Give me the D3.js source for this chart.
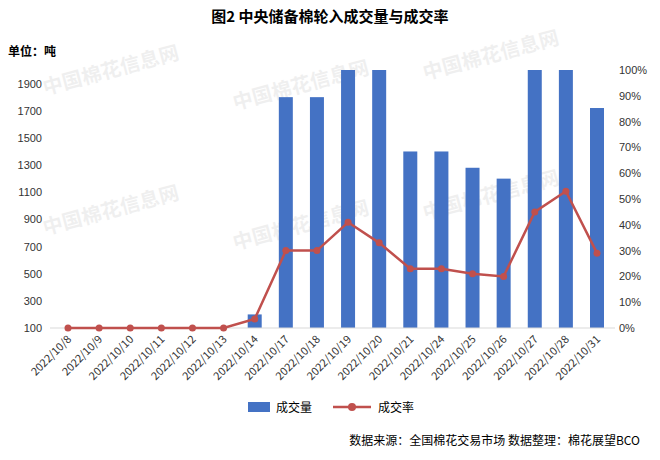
<!DOCTYPE html>
<html><head><meta charset="utf-8">
<script src="https://cdn.jsdelivr.net/npm/d3@7"></script>
<style>body{margin:0;background:#fff;font-family:"Noto Sans CJK SC","Noto Sans",sans-serif;}</style>
</head><body>
<svg id="c" width="660" height="460"></svg>
<script>
var dates = ["2022/10/8","2022/10/9","2022/10/10","2022/10/11","2022/10/12","2022/10/13","2022/10/14","2022/10/17","2022/10/18","2022/10/19","2022/10/20","2022/10/21","2022/10/24","2022/10/25","2022/10/26","2022/10/27","2022/10/28","2022/10/31"];
var volume = [0,0,0,0,0,0,200,1800,1800,2000,2000,1400,1400,1280,1200,2000,2000,1720];
var rate = [0,0,0,0,0,0,3.5,30,30,41,33,23,23,21,20,45,53,29];
var leftTicks = [100,300,500,700,900,1100,1300,1500,1700,1900];
var rightTicks = [0,10,20,30,40,50,60,70,80,90,100];

var svg = d3.select("#c");
var plotTop = 70, plotBottom = 328, plotLeft = 50, plotRight = 615;

var x = d3.scalePoint().domain(dates).range([68, 597]);
var yL = d3.scaleLinear().domain([100, 2000]).range([plotBottom, plotTop]);
var yR = d3.scaleLinear().domain([0, 100]).range([plotBottom, plotTop]);

// watermarks
[[45,95],[235,110],[425,80],[45,235],[235,250],[425,220]].forEach(function(p){
    svg.append("text").attr("x", p[0]).attr("y", p[1]).attr("font-size", 20).attr("font-weight", "bold")
        .attr("fill", "#000").attr("opacity", 0.06).attr("transform", "rotate(-15," + p[0] + "," + p[1] + ")").text("中国棉花信息网");
});

svg.append("text").attr("x", 330).attr("y", 22).attr("text-anchor", "middle")
    .attr("font-size", 15).attr("font-weight", "bold").text("图2 中央储备棉轮入成交量与成交率");
svg.append("text").attr("x", 8).attr("y", 56).attr("font-size", 12).attr("font-weight", "bold").text("单位：吨");

svg.append("g").selectAll("rect").data(dates).join("rect")
    .attr("x", function(d){ return x(d) - 7; })
    .attr("width", 14)
    .attr("y", function(d, i){ return volume[i] > 100 ? yL(volume[i]) : plotBottom; })
    .attr("height", function(d, i){ return volume[i] > 100 ? plotBottom - yL(volume[i]) : 0; })
    .attr("fill", "#4472c4");

svg.append("g").attr("transform", "translate(" + plotLeft + ",0)")
    .call(d3.axisLeft(yL).tickValues(leftTicks).tickSize(0).tickPadding(8).tickFormat(d3.format("d")))
    .call(function(g){ g.select(".domain").remove(); })
    .selectAll("text").attr("font-size", 11).attr("fill", "#333");

svg.append("g").attr("transform", "translate(" + plotRight + ",0)")
    .call(d3.axisRight(yR).tickValues(rightTicks).tickSize(0).tickPadding(4).tickFormat(function(d){ return d + "%"; }))
    .call(function(g){ g.select(".domain").remove(); })
    .selectAll("text").attr("font-size", 11).attr("fill", "#333");

svg.append("line").attr("x1", plotLeft).attr("x2", plotRight).attr("y1", plotBottom).attr("y2", plotBottom).attr("stroke", "#d9d9d9");

var line = d3.line().x(function(d, i){ return x(dates[i]); }).y(function(d){ return yR(d); });
svg.append("path").datum(rate).attr("d", line).attr("fill", "none").attr("stroke", "#c0504d").attr("stroke-width", 2.5);
svg.append("g").selectAll("circle").data(rate).join("circle")
    .attr("cx", function(d, i){ return x(dates[i]); }).attr("cy", function(d){ return yR(d); })
    .attr("r", 3.5).attr("fill", "#c0504d");

svg.append("g").selectAll("text").data(dates).join("text")
    .attr("transform", function(d){ return "translate(" + (x(d) + 4) + "," + (plotBottom + 12) + ") rotate(-45)"; })
    .attr("text-anchor", "end").attr("font-size", 11).attr("fill", "#333").text(function(d){ return d; });

// legend
svg.append("rect").attr("x", 248).attr("y", 402).attr("width", 22).attr("height", 10).attr("fill", "#4472c4");
svg.append("text").attr("x", 276).attr("y", 412).attr("font-size", 12).text("成交量");
svg.append("line").attr("x1", 333).attr("x2", 371).attr("y1", 407).attr("y2", 407).attr("stroke", "#c0504d").attr("stroke-width", 2.5);
svg.append("circle").attr("cx", 352).attr("cy", 407).attr("r", 4).attr("fill", "#c0504d");
svg.append("text").attr("x", 378).attr("y", 412).attr("font-size", 12).text("成交率");

svg.append("text").attr("x", 640).attr("y", 445).attr("text-anchor", "end").attr("font-size", 12)
    .text("数据来源：全国棉花交易市场    数据整理：棉花展望BCO");
</script>
</body></html>
